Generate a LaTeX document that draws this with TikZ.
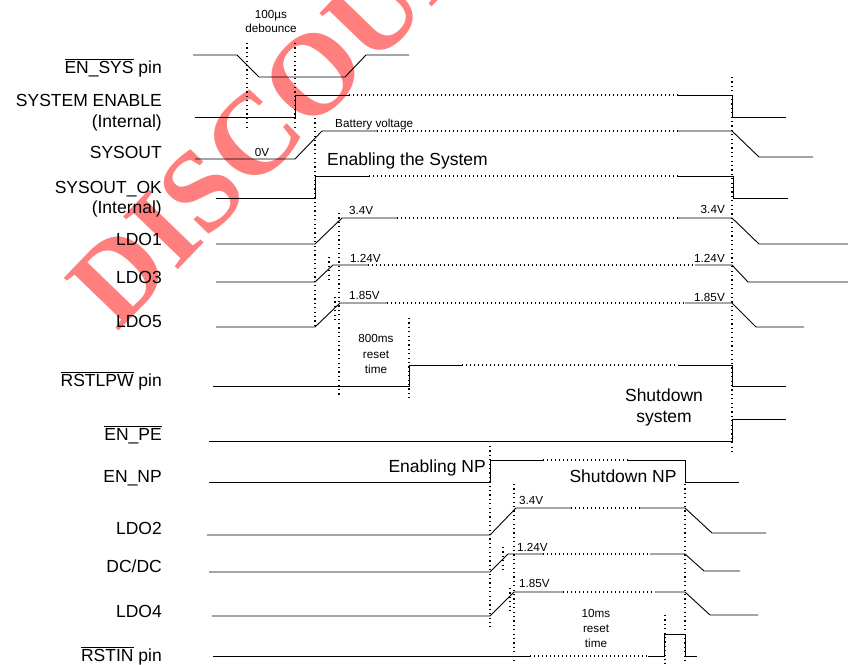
\documentclass[tikz,border=0pt]{standalone}
\usepackage{fontspec}
\setmainfont{Liberation Sans}
\newfontfamily\wmfont{Liberation Serif}
\usetikzlibrary{positioning}

\newcommand{\ovl}[1]{$\overline{\mbox{#1}}$}

\begin{document}
\begin{tikzpicture}[x=1pt, y=-1pt,
  sig/.style={line width=0.9pt, line join=miter},
  dots/.style={line width=1.2pt, dash pattern=on 1.2pt off 2.8pt},
  guide/.style={line width=1.2pt, dash pattern=on 1.2pt off 3.2pt},
  lbl/.style={anchor=base east, inner sep=0pt, font=\fontsize{17.5}{21}\selectfont},
  big/.style={inner sep=0pt, font=\fontsize{17.5}{21}\selectfont},
  val/.style={inner sep=0pt, font=\fontsize{11.7}{15}\selectfont}]

  \useasboundingbox (0,0) rectangle (848,664);

  % watermark
  \begin{scope}
    \clip (0,0) rectangle (848,664);
    \node[rotate=46, anchor=base west, inner sep=0pt, text=red, text opacity=0.5,
          font=\wmfont\bfseries\fontsize{116}{116}\selectfont] (wm) at (117,333) {DISCOUNT};
  \end{scope}

  % signal names
  \foreach \nm/\y/\txt in {
      ensys/73/{\ovl{EN\_SYS} pin}, sysen/106/{SYSTEM ENABLE}, sysenint/127/{(Internal)},
      sysout/158/{SYSOUT}, sysok/193/{SYSOUT\_OK}, sysokint/213/{(Internal)},
      ldoa/245/{LDO1}, ldoc/283/{LDO3}, ldoe/327/{LDO5},
      rstlpw/386/{\ovl{RSTLPW} pin}, enpe/440/{\ovl{EN\_PE}}, ennp/482/{EN\_NP},
      ldob/534/{LDO2}, dcdc/572/{DC/DC}, ldod/617/{LDO4}, rstin/661/{\ovl{RSTIN} pin}}{
    \node[lbl] (lbl-\nm) at (162,\y) {\txt};
  }

  % timing guides
  \foreach \x/\ya/\yb in {
      247/43/128, 295/43/128, 315/118/329, 339/213/395, 329/257/283, 335/297/321,
      409/318/398, 732/77/455, 490/446/627, 514/484/664, 503/547/572, 510/588/612,
      685/484/664, 665/615/664}{
    \draw[guide] (\x,\ya) -- (\x,\yb);
  }

  % system sequence
  \draw[sig] (193,55) -- (237,55) -- (259,77) -- (345,77) -- (366,55) -- (409,55);
  \draw[sig] (195,117) -- (295,117) -- (295,95) -- (349,95);
  \draw[dots] (349,95) -- (678,95);
  \draw[sig] (678,95) -- (732,95) -- (732,117) -- (786,117);
  \draw[sig] (195,159) -- (295,159) -- (322,131) -- (377,131);
  \draw[dots] (377,131) -- (678,131);
  \draw[sig] (678,131) -- (732,131) -- (759,157) -- (813,157);
  \draw[sig] (216,198) -- (315,198) -- (315,176) -- (369,176);
  \draw[dots] (369,176) -- (678,176);
  \draw[sig] (678,176) -- (733,176) -- (733,198) -- (788,198);
  \draw[sig] (216,244) -- (315,244) -- (342,218) -- (397,218);
  \draw[dots] (397,218) -- (678,218);
  \draw[sig] (678,218) -- (732,218) -- (759,244) -- (848,244);
  \draw[sig] (216,282) -- (315,282) -- (333,265) -- (368,265);
  \draw[dots] (368,265) -- (695,265);
  \draw[sig] (695,265) -- (732,265) -- (748,282) -- (848,282);
  \draw[sig] (216,327) -- (315,327) -- (340,303) -- (387,303);
  \draw[dots] (387,303) -- (685,303);
  \draw[sig] (685,303) -- (732,303) -- (756,327) -- (804,327);
  \draw[sig] (213,386) -- (409,386) -- (409,365) -- (462,365);
  \draw[dots] (462,365) -- (678,365);
  \draw[sig] (678,365) -- (732,365) -- (732,386) -- (786,386);
  \draw[sig] (209,441) -- (732,441) -- (732,419) -- (786,419);

  % NP sequence
  \draw[sig] (209,482) -- (490,482) -- (490,460) -- (543,460);
  \draw[dots] (543,460) -- (628,460);
  \draw[sig] (628,460) -- (685,460) -- (685,482) -- (739,482);
  \draw[sig] (207,535) -- (490,535) -- (516,508) -- (571,508);
  \draw[dots] (571,508) -- (640,508);
  \draw[sig] (640,508) -- (685,508) -- (712,533) -- (766,533);
  \draw[sig] (209,572) -- (490,572) -- (508,554) -- (543,554);
  \draw[dots] (543,554) -- (650,554);
  \draw[sig] (650,554) -- (685,554) -- (704,571) -- (740,571);
  \draw[sig] (212,616) -- (490,616) -- (514,592) -- (563,592);
  \draw[dots] (563,592) -- (655,592);
  \draw[sig] (655,592) -- (685,592) -- (710,615) -- (758,615);
  \draw[sig] (213,656) -- (530,656);
  \draw[dots] (530,656) -- (648,656);
  \draw[sig] (648,656) -- (664,656) -- (664,634) -- (685,634) -- (685,656) -- (697,656);

  % annotations
  \node[val, anchor=base] (deb1) at (271,18) {100µs};
  \node[val, anchor=base] (deb2) at (271,32.5) {debounce};
  \node[val, anchor=base] (zero) at (262,156) {0V};
  \node[val, anchor=base west] (batt) at (335,127.5) {Battery voltage};
  \node[big, anchor=base west] (ensystem) at (327,165.5) {Enabling the System};
  \node[val, anchor=base west] (va1) at (349,214) {3.4V};
  \node[val, anchor=base east] (va2) at (725,213) {3.4V};
  \node[val, anchor=base west] (vc1) at (350,262) {1.24V};
  \node[val, anchor=base east] (vc2) at (725,262) {1.24V};
  \node[val, anchor=base west] (ve1) at (349,299) {1.85V};
  \node[val, anchor=base east] (ve2) at (725,301) {1.85V};
  \node[val, anchor=base] (rst1) at (376,342) {800ms};
  \node[val, anchor=base] (rst2) at (376,358) {reset};
  \node[val, anchor=base] (rst3) at (376,373) {time};
  \node[big, anchor=base] (shut1) at (664,401) {Shutdown};
  \node[big, anchor=base] (shut2) at (664,422) {system};
  \node[big, anchor=base east] (ennp) at (486,472) {Enabling NP};
  \node[big, anchor=base] (shutnp) at (623,482) {Shutdown NP};
  \node[val, anchor=base west] (vb) at (519,504) {3.4V};
  \node[val, anchor=base west] (vdc) at (517,551) {1.24V};
  \node[val, anchor=base west] (vd) at (519,587) {1.85V};
  \node[val, anchor=base] (rsn1) at (596,617) {10ms};
  \node[val, anchor=base] (rsn2) at (596,632) {reset};
  \node[val, anchor=base] (rsn3) at (596,647) {time};
\end{tikzpicture}
\end{document}
